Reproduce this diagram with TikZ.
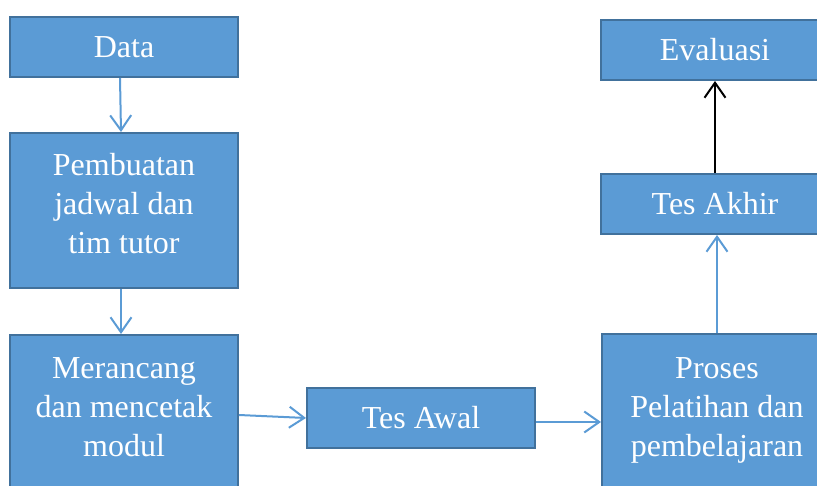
\documentclass[tikz,border=0pt]{standalone}
\usepackage{fontspec}
\setmainfont{Liberation Serif}
\usetikzlibrary{arrows.meta}
\definecolor{boxfill}{HTML}{5B9BD5}
\definecolor{boxline}{HTML}{41719C}
\tikzset{
  box/.style={draw=boxline, line width=2pt, fill=boxfill, text=white,
    align=center, inner sep=0pt, font=\fontsize{32}{39}\selectfont},
  txt/.style={text=white, align=center, inner sep=0pt, font=\fontsize{32}{39}\selectfont},
  arr/.style={draw=boxfill, line width=2pt, -{Straight Barb[length=15pt,width=21pt,line width=2pt]}},
  arrk/.style={draw=black, line width=2pt, -{Straight Barb[length=15pt,width=21pt,line width=2pt]}}
}
\begin{document}
\begin{tikzpicture}[x=1pt,y=-1pt]
\useasboundingbox (0,0) rectangle (817,486);
\clip (0,0) rectangle (817,486);
\node[box, minimum width=228pt, minimum height=60pt] (data) at (124,47) {Data};
\node[box, minimum width=228pt, minimum height=155pt] (pemb) at (124,210.5) {};
\node[txt] (pembt) at ([yshift=7pt]pemb.center) {Pembuatan\\jadwal dan\\tim tutor};
\node[box, minimum width=228pt, minimum height=162pt] (meran) at (124,416) {};
\node[txt] (merant) at ([yshift=9pt]meran.center) {Merancang\\dan mencetak\\modul};
\node[box, minimum width=228pt, minimum height=60pt] (awal) at (421,418) {Tes Awal};
\node[box, minimum width=230pt, minimum height=162pt] (proses) at (717,415) {};
\node[txt] (prosest) at ([yshift=5pt]proses.center) {Proses\\Pelatihan dan\\pembelajaran};
\node[box, minimum width=228pt, minimum height=60pt] (akhir) at (715,204) {Tes Akhir};
\node[box, minimum width=228pt, minimum height=60pt] (eval) at (715,50) {Evaluasi};
\draw[arr] ([xshift=-4pt]data.south) -- ([xshift=-3pt]pemb.north);
\draw[arr] ([xshift=-3pt]pemb.south) -- ([xshift=-3pt]meran.north);
\draw[arr] ([yshift=1pt]meran.east) -- (awal.west);
\draw[arr] ([yshift=-4pt]awal.east) -- ([yshift=-4pt]awal.east -| proses.west);
\draw[arr] (proses.north) -- (proses.north |- akhir.south);
\draw[arrk] (akhir.north) -- (eval.south);
\end{tikzpicture}
\end{document}
